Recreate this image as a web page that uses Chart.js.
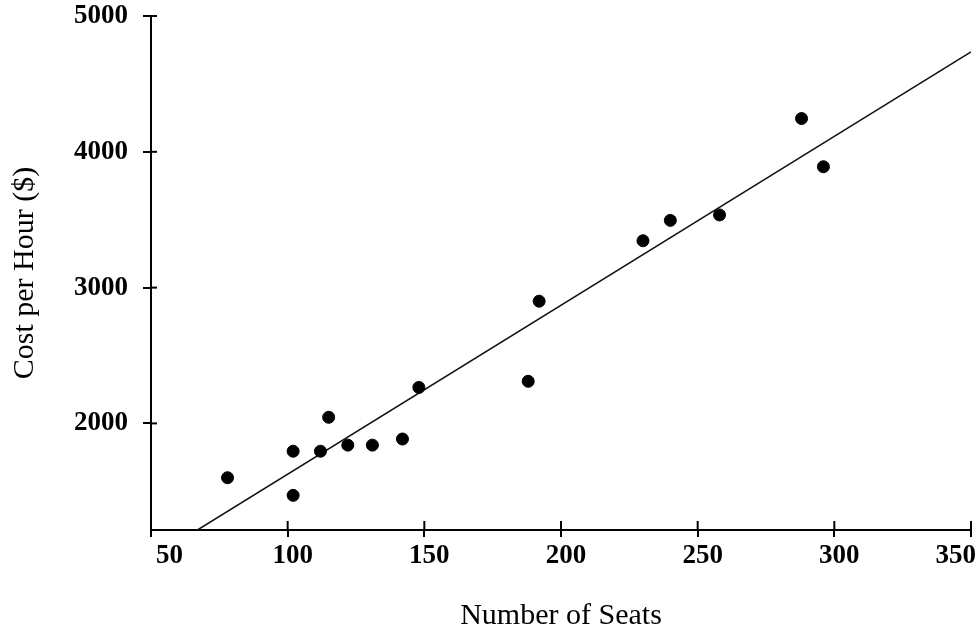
<!DOCTYPE html>
<html>
<head>
<meta charset="utf-8">
<script src="https://cdn.jsdelivr.net/npm/chart.js@4/dist/chart.umd.min.js"></script>
<style>
    body { margin: 0; background: #fff; }
    canvas { display: block; }
</style>
</head>
<body>
<canvas id="seats-cost" width="978" height="631"></canvas>
<script>
// values
const seats = [78, 102, 102, 112, 115, 122, 131, 142, 148, 188, 192, 230, 240, 258, 288, 296];
const costPerHour = [1600, 1795, 1470, 1795, 2045, 1840, 1840, 1885, 2265, 2310, 2900, 3345, 3495, 3535, 4245, 3890];

// ends of the fitted line
const fitSeats = [67, 350];
const fitCost = [1215, 4735];

const xTicks = [50, 100, 150, 200, 250, 300, 350];
const yTicks = [2000, 3000, 4000, 5000];
const yMin = 1215;

const serif = '"Liberation Serif", "Times New Roman", serif';

// small tick marks that cross into the plot area
const innerTicks = {
    id: 'innerTicks',
    afterDraw(chart) {
        const { ctx, scales: { x, y } } = chart;
        ctx.save();
        ctx.strokeStyle = '#000';
        ctx.lineWidth = 2;
        x.ticks.forEach((t) => {
            const px = x.getPixelForValue(t.value);
            ctx.beginPath();
            ctx.moveTo(px, x.top);
            ctx.lineTo(px, x.top - 9);
            ctx.stroke();
        });
        y.ticks.forEach((t) => {
            const py = y.getPixelForValue(t.value);
            ctx.beginPath();
            ctx.moveTo(y.right, py);
            ctx.lineTo(y.right + 6, py);
            ctx.stroke();
        });
        ctx.restore();
    }
};

const ctx = document.getElementById('seats-cost');

new Chart(ctx, {
    type: 'scatter',
    data: {
        datasets: [
            {
                label: 'points',
                data: seats.map((s, i) => ({ x: s, y: costPerHour[i] })),
                backgroundColor: '#000',
                borderColor: '#000',
                pointRadius: 6,
                pointHoverRadius: 6
            },
            {
                label: 'fit',
                data: fitSeats.map((s, i) => ({ x: s, y: fitCost[i] })),
                showLine: true,
                borderColor: '#111',
                borderWidth: 1.5,
                pointRadius: 0,
                fill: false
            }
        ]
    },
    options: {
        responsive: false,
        animation: false,
        layout: {
            padding: { top: 0, right: 6, bottom: 0, left: 0 }
        },
        plugins: {
            legend: { display: false },
            tooltip: { enabled: false }
        },
        scales: {
            x: {
                type: 'linear',
                min: xTicks[0],
                max: xTicks[xTicks.length - 1],
                afterBuildTicks: (scale) => {
                    scale.ticks = xTicks.map((v) => ({ value: v }));
                },
                afterFit: (scale) => { scale.height = 101; },
                border: { display: true, color: '#000', width: 2 },
                grid: {
                    drawOnChartArea: false,
                    color: '#000',
                    lineWidth: 2,
                    tickLength: 7
                },
                ticks: {
                    align: 'inner',
                    labelOffset: 5,
                    padding: 3,
                    color: '#000',
                    maxRotation: 0,
                    callback: (v) => String(v),
                    font: { family: serif, size: 27, weight: 'bold' }
                },
                title: {
                    display: true,
                    text: 'Number of Seats',
                    color: '#000',
                    padding: { top: 0, bottom: 0 },
                    font: { family: serif, size: 30, lineHeight: 1 }
                }
            },
            y: {
                min: yMin,
                max: yTicks[yTicks.length - 1],
                afterBuildTicks: (scale) => {
                    scale.ticks = yTicks.map((v) => ({ value: v }));
                },
                afterFit: (scale) => {
                    scale.width = 151;
                    scale.paddingTop = 16;
                    scale.paddingBottom = 0;
                },
                border: { display: true, color: '#000', width: 2 },
                grid: {
                    drawOnChartArea: false,
                    color: '#000',
                    lineWidth: 2,
                    tickLength: 8
                },
                ticks: {
                    padding: 15,
                    color: '#000',
                    callback: (v) => String(v),
                    font: { family: serif, size: 27, weight: 'bold' }
                },
                title: {
                    display: true,
                    text: 'Cost per Hour ($)',
                    color: '#000',
                    padding: { top: 10, bottom: 0 },
                    font: { family: serif, size: 30, lineHeight: 1 }
                }
            }
        }
    },
    plugins: [innerTicks]
});
</script>
</body>
</html>
